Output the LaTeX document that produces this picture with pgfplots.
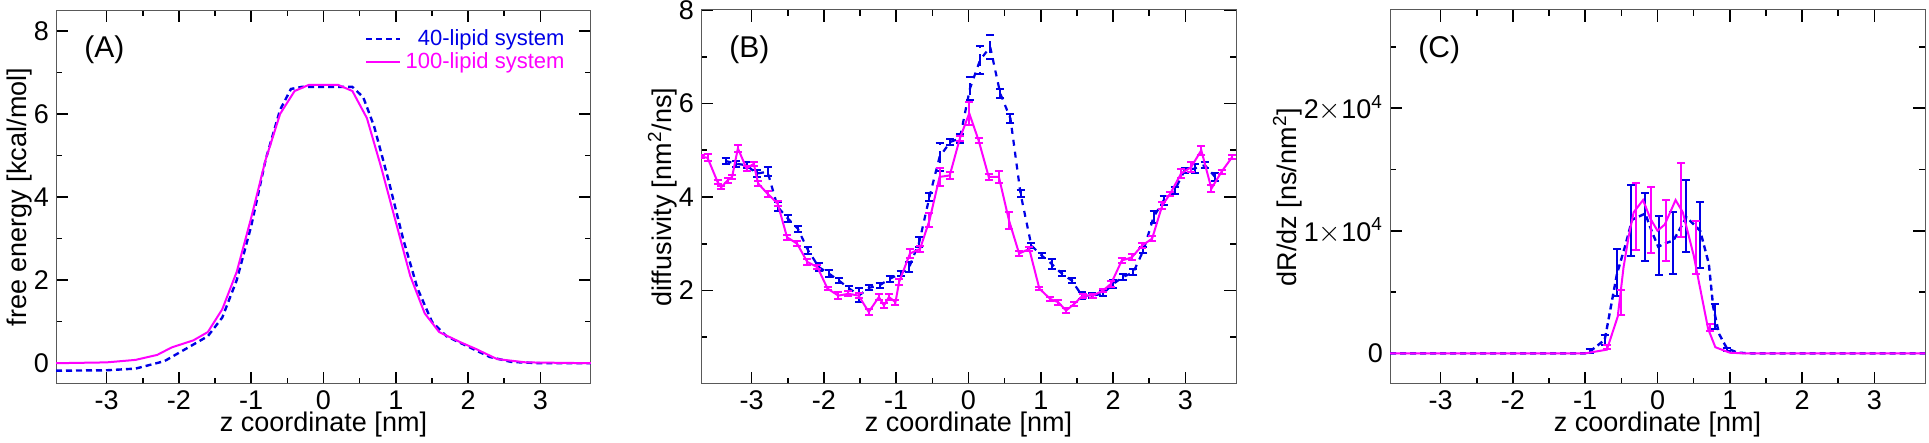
\documentclass[border=0pt]{standalone}
\usepackage{pgfplots}
\pgfplotsset{compat=1.18}
\usepackage{fontspec}
\setmainfont{Liberation Sans}
\definecolor{mag}{RGB}{255,0,255}
\definecolor{blu}{RGB}{0,0,230}
\pgfplotsset{
 panel/.style={scale only axis, width=267.5pt, height=187pt, anchor=south west,
  xmin=-3.7, xmax=3.7, xtick={-3,...,3}, minor x tick num=1,
  tick align=inside, major tick length=6pt, minor tick length=3pt,
  axis line style={gray!70!black, line width=0.5pt}, tick style={black, line width=0.8pt},
  ticklabel style={font=\fontsize{13.5}{14}\selectfont},
  label style={font=\fontsize{13.5}{14}\selectfont},
  /pgf/number format/assume math mode=true,
  xlabel={z coordinate [nm]}, xlabel style={yshift=6pt},
  ylabel style={yshift=-6pt},
  clip=true},
 eb/.style={error bars/.cd, y dir=both, y explicit, error bar style={line width=1pt}, error mark options={rotate=90, mark size=2pt, line width=1pt}},
}
\begin{document}
\begin{tikzpicture}
\path[use as bounding box] (0,0) rectangle (964.5pt,221.5pt);
% Panel A
\begin{axis}[panel, at={(28pt,29.5pt)}, ymin=-0.5, ymax=8.5, ytick={0,2,4,6,8}, minor y tick num=1,
  ylabel={free energy [kcal/mol]},
  legend style={draw=none, fill=none, at={(0.97,0.97)}, anchor=north east, font=\fontsize{11}{12}\selectfont, row sep=-2pt},
  legend cell align=right]
\addplot[blu, densely dashed, line width=1.2pt] coordinates {(-3.7,-0.18)(-3,-0.17)(-2.6,-0.13)(-2.2,0.05)(-2,0.25)(-1.8,0.45)(-1.6,0.65)(-1.4,1.1)(-1.2,2.0)(-1.0,3.3)(-0.8,4.9)(-0.6,6.1)(-0.45,6.6)(-0.3,6.65)(0,6.65)(0.4,6.65)(0.55,6.4)(0.7,5.7)(0.9,4.4)(1.1,3.0)(1.3,1.8)(1.5,1.0)(1.7,0.65)(2.0,0.4)(2.3,0.15)(2.6,0.03)(3.0,0.0)(3.7,0.0)};
\addlegendentry{\textcolor{blu}{40-lipid system}}
\addplot[mag, line width=1pt] coordinates {(-3.7,0)(-3,0.02)(-2.6,0.08)(-2.3,0.2)(-2.1,0.38)(-1.8,0.55)(-1.6,0.75)(-1.4,1.3)(-1.2,2.2)(-1.0,3.5)(-0.8,4.9)(-0.6,6.0)(-0.4,6.55)(-0.2,6.7)(0.2,6.7)(0.4,6.55)(0.6,5.9)(0.8,4.7)(1.0,3.4)(1.2,2.1)(1.4,1.2)(1.6,0.75)(1.9,0.5)(2.1,0.35)(2.4,0.1)(2.8,0.02)(3.7,0)};
\addlegendentry{\textcolor{mag}{100-lipid system}}
\node[anchor=north west, font=\fontsize{15}{15}\selectfont] at (rel axis cs:0.04,0.95) {(A)};
\end{axis}
% Panel B
\begin{axis}[panel, at={(350.5pt,29.5pt)}, ymin=0, ymax=8, ytick={2,4,6,8}, minor ytick={1,3,5,7},
  ylabel={diffusivity [nm\textsuperscript{2}/ns]}]
\addplot[blu, dashed, line width=1.1pt, mark=none, eb] table[y error=e] {
x y e
-3.36 4.77 0.06
-3.21 4.71 0.06
-3.07 4.68 0.06
-2.93 4.50 0.07
-2.78 4.54 0.1
-2.64 3.79 0.1
-2.50 3.54 0.08
-2.36 3.32 0.06
-2.22 2.86 0.08
-2.07 2.50 0.08
-1.93 2.36 0.08
-1.79 2.21 0.06
-1.65 2.04 0.06
-1.51 1.90 0.15
-1.37 2.06 0.05
-1.23 2.11 0.06
-1.09 2.25 0.06
-0.94 2.36 0.06
-0.82 2.50 0.1
-0.68 3.04 0.1
-0.54 4.00 0.08
-0.40 4.86 0.3
-0.25 5.18 0.06
-0.12 5.25 0.1
0.02 6.32 0.25
0.16 6.93 0.3
0.30 7.21 0.25
0.44 6.21 0.1
0.58 5.68 0.1
0.72 4.07 0.08
0.87 2.96 0.06
1.01 2.75 0.05
1.15 2.57 0.1
1.29 2.36 0.06
1.43 2.21 0.05
1.57 1.89 0.08
1.71 1.89 0.05
1.86 1.93 0.05
2.00 2.14 0.08
2.14 2.29 0.06
2.28 2.39 0.06
2.42 2.86 0.06
2.56 3.57 0.12
2.70 3.93 0.1
2.85 4.14 0.08
2.99 4.57 0.06
3.13 4.61 0.1
3.27 4.68 0.06
3.41 4.43 0.08
};
\addplot[mag, line width=1pt, mark=none, eb] table[y error=e] {
x y e
-3.70 4.86 0.03
-3.61 4.84 0.07
-3.47 4.32 0.05
-3.42 4.21 0.03
-3.33 4.36 0.05
-3.27 4.43 0.04
-3.19 5.04 0.07
-3.07 4.61 0.06
-2.97 4.71 0.04
-2.91 4.29 0.06
-2.78 4.07 0.06
-2.64 3.86 0.06
-2.51 3.14 0.05
-2.37 3.00 0.05
-2.23 2.61 0.06
-2.09 2.50 0.05
-1.95 2.04 0.04
-1.80 1.89 0.08
-1.66 1.93 0.05
-1.52 1.89 0.05
-1.38 1.54 0.07
-1.24 1.86 0.06
-1.17 1.68 0.05
-1.10 1.86 0.06
-1.01 1.75 0.05
-0.96 2.18 0.06
-0.81 2.79 0.1
-0.67 2.89 0.06
-0.54 3.50 0.15
-0.40 4.43 0.2
-0.26 4.46 0.08
-0.12 5.25 0.06
0.01 5.79 0.25
0.14 5.21 0.06
0.28 4.43 0.06
0.42 4.43 0.12
0.56 3.50 0.18
0.70 2.79 0.06
0.84 2.89 0.05
0.98 2.04 0.03
1.13 1.82 0.05
1.24 1.75 0.05
1.35 1.57 0.06
1.46 1.71 0.04
1.58 1.89 0.04
1.72 1.89 0.04
1.86 2.00 0.04
1.97 2.14 0.06
2.12 2.64 0.06
2.26 2.71 0.06
2.40 2.96 0.06
2.54 3.11 0.06
2.68 3.82 0.08
2.79 4.07 0.04
2.94 4.50 0.1
3.08 4.64 0.1
3.22 5.00 0.1
3.36 4.18 0.07
3.50 4.54 0.04
3.65 4.86 0.04
};
\node[anchor=north west, font=\fontsize{15}{15}\selectfont] at (rel axis cs:0.04,0.95) {(B)};
\end{axis}
% Panel C
\begin{axis}[panel, at={(695pt,29.5pt)}, ymin=-2500, ymax=28000, ytick={0,10000,20000},
  yticklabels={0,1$\times$10\textsuperscript{4},2$\times$10\textsuperscript{4}},
  minor ytick={5000,15000,25000}, scaled y ticks=false,
  ylabel={dR/dz [ns/nm\textsuperscript{2}]}]
\addplot[blu, densely dashed, line width=1.2pt] coordinates {(-3.7,0)(-1.0,0)(-0.94,130)(-0.73,1100)(-0.56,6500)(-0.45,8700)(-0.35,10900)(-0.17,11400)(-0.07,9800)(0.01,8700)(0.12,9000)(0.22,9200)(0.4,11100)(0.59,10000)(0.71,7300)(0.77,3800)(0.85,1600)(0.96,400)(1.11,50)(1.3,0)(3.7,0)};
\addplot[draw=none, mark=none, error bars/.cd, y dir=both, y explicit, error bar style={blu, line width=1pt}, error mark options={blu, rotate=90, mark size=2pt, line width=1pt}] table[y error=e] {
x y e
-0.94 200 150
-0.73 1100 400
-0.56 6600 1900
-0.36 10800 2900
-0.17 10300 2800
0.02 8800 2400
0.21 9000 2500
0.40 11200 2900
0.59 9650 2700
0.79 3000 1000
0.96 300 150
};
\addplot[mag, line width=1pt] coordinates {(-3.7,0)(-1.0,0)(-0.7,300)(-0.55,3000)(-0.47,7000)(-0.4,9500)(-0.33,11500)(-0.2,12500)(-0.1,11000)(0.0,10000)(0.1,10500)(0.25,12500)(0.35,11500)(0.5,8000)(0.6,5000)(0.7,2000)(0.8,500)(1.0,50)(1.2,0)(3.7,0)};
\addplot[draw=none, mark=none, error bars/.cd, y dir=both, y explicit, error bar style={mag, line width=1pt}, error mark options={mag, rotate=90, mark size=2pt, line width=1pt}] table[y error=e] {
x y e
-0.70 500 150
-0.50 4150 1050
-0.30 11150 2750
-0.09 10850 2700
0.12 10000 2500
0.33 12500 3050
0.53 8650 2150
0.73 2100 300
};
\node[anchor=north west, font=\fontsize{15}{15}\selectfont] at (rel axis cs:0.04,0.95) {(C)};
\end{axis}
\end{tikzpicture}
\end{document}
